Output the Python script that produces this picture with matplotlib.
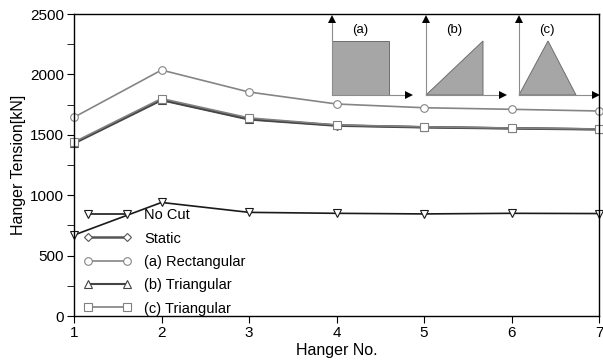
import numpy as np
import matplotlib.pyplot as plt
from matplotlib.ticker import MultipleLocator
from matplotlib.patches import Polygon

plt.rcParams['font.family'] = ['Liberation Sans', 'DejaVu Sans']

hanger = [1, 2, 3, 4, 5, 6, 7]
no_cut = [670, 940, 858, 850, 845, 850, 848]
static = [1430, 1788, 1628, 1576, 1562, 1553, 1545]
rect_a = [1645, 2036, 1854, 1755, 1724, 1711, 1697]
tri_b = [1432, 1790, 1630, 1578, 1563, 1554, 1546]
tri_c = [1440, 1800, 1640, 1582, 1566, 1556, 1548]

series = [
    ("No Cut", no_cut, 'v', '#1a1a1a', 1.2),
    ("Static", static, 'D', '#555555', 1.8),
    ("(a) Rectangular", rect_a, 'o', '#858585', 1.2),
    ("(b) Triangular", tri_b, '^', '#444444', 1.5),
    ("(c) Triangular", tri_c, 's', '#808080', 1.2),
]

fig = plt.figure(figsize=(6.03, 3.6), dpi=100)
ax = fig.add_axes([74/603, 1-316/360, 525/603, 302/360])

for name, vals, mk, col, lw in series:
    ms = 4.5 if mk == 'D' else 5.5
    ax.plot(hanger, vals, marker=mk, color=col, lw=lw, ms=ms,
            mfc='white', mec=col, mew=0.8, label=name, clip_on=False)

ax.set_xlim(1, 7)
ax.set_ylim(0, 2500)
ax.yaxis.set_major_locator(MultipleLocator(500))
ax.yaxis.set_minor_locator(MultipleLocator(250))
ax.tick_params(axis='both', which='both', direction='out', length=5,
               labelsize=11, pad=2)
ax.tick_params(top=False, right=False)
for s in ax.spines.values():
    s.set_linewidth(1.0)
ax.set_xlabel("Hanger No.", fontsize=11.5, labelpad=2)
ax.set_ylabel("Hanger Tension[kN]", fontsize=11.5, labelpad=3)

leg = ax.legend(loc='lower left', bbox_to_anchor=(0.007, -0.018), frameon=False,
                numpoints=2, handlelength=3.3, fontsize=10.5,
                labelspacing=0.64, handletextpad=0.85, borderaxespad=0)

# inset load-shape sketches (axes fraction coords)
def fx(px):
    return (px - 74) / 525

def fy(py):
    return (316 - py) / 302

tr = ax.transAxes
fill = '#a6a6a6'
edge = '#6e6e6e'
origins = [332, 426, 519]
for i, ox in enumerate(origins):
    ax.plot([fx(ox), fx(ox)], [fy(95), fy(20)], transform=tr, color='#8c8c8c', lw=0.8)
    ax.plot([fx(ox), fx(ox + 76)], [fy(95), fy(95)], transform=tr, color='#8c8c8c', lw=0.8)
    ax.plot([fx(ox)], [fy(19)], transform=tr, marker='^', color='black', ms=6, mew=0, clip_on=False)
    ax.plot([fx(ox + 77)], [fy(95)], transform=tr, marker='>', color='black', ms=6, mew=0, clip_on=False)
    if i == 0:
        pts = [(ox, 95), (ox, 41), (ox + 57, 41), (ox + 57, 95)]
    elif i == 1:
        pts = [(ox, 95), (ox + 57, 41), (ox + 57, 95)]
    else:
        pts = [(ox, 95), (ox + 29, 41), (ox + 57, 95)]
    ax.add_patch(Polygon([(fx(a), fy(b)) for a, b in pts], closed=True,
                         transform=tr, facecolor=fill, edgecolor=edge, lw=0.7))
    ax.text(fx(ox + 28), fy(30), "(%s)" % "abc"[i], transform=tr,
            ha='center', va='center', fontsize=9.5)

fig.savefig("out.png", dpi=100)
